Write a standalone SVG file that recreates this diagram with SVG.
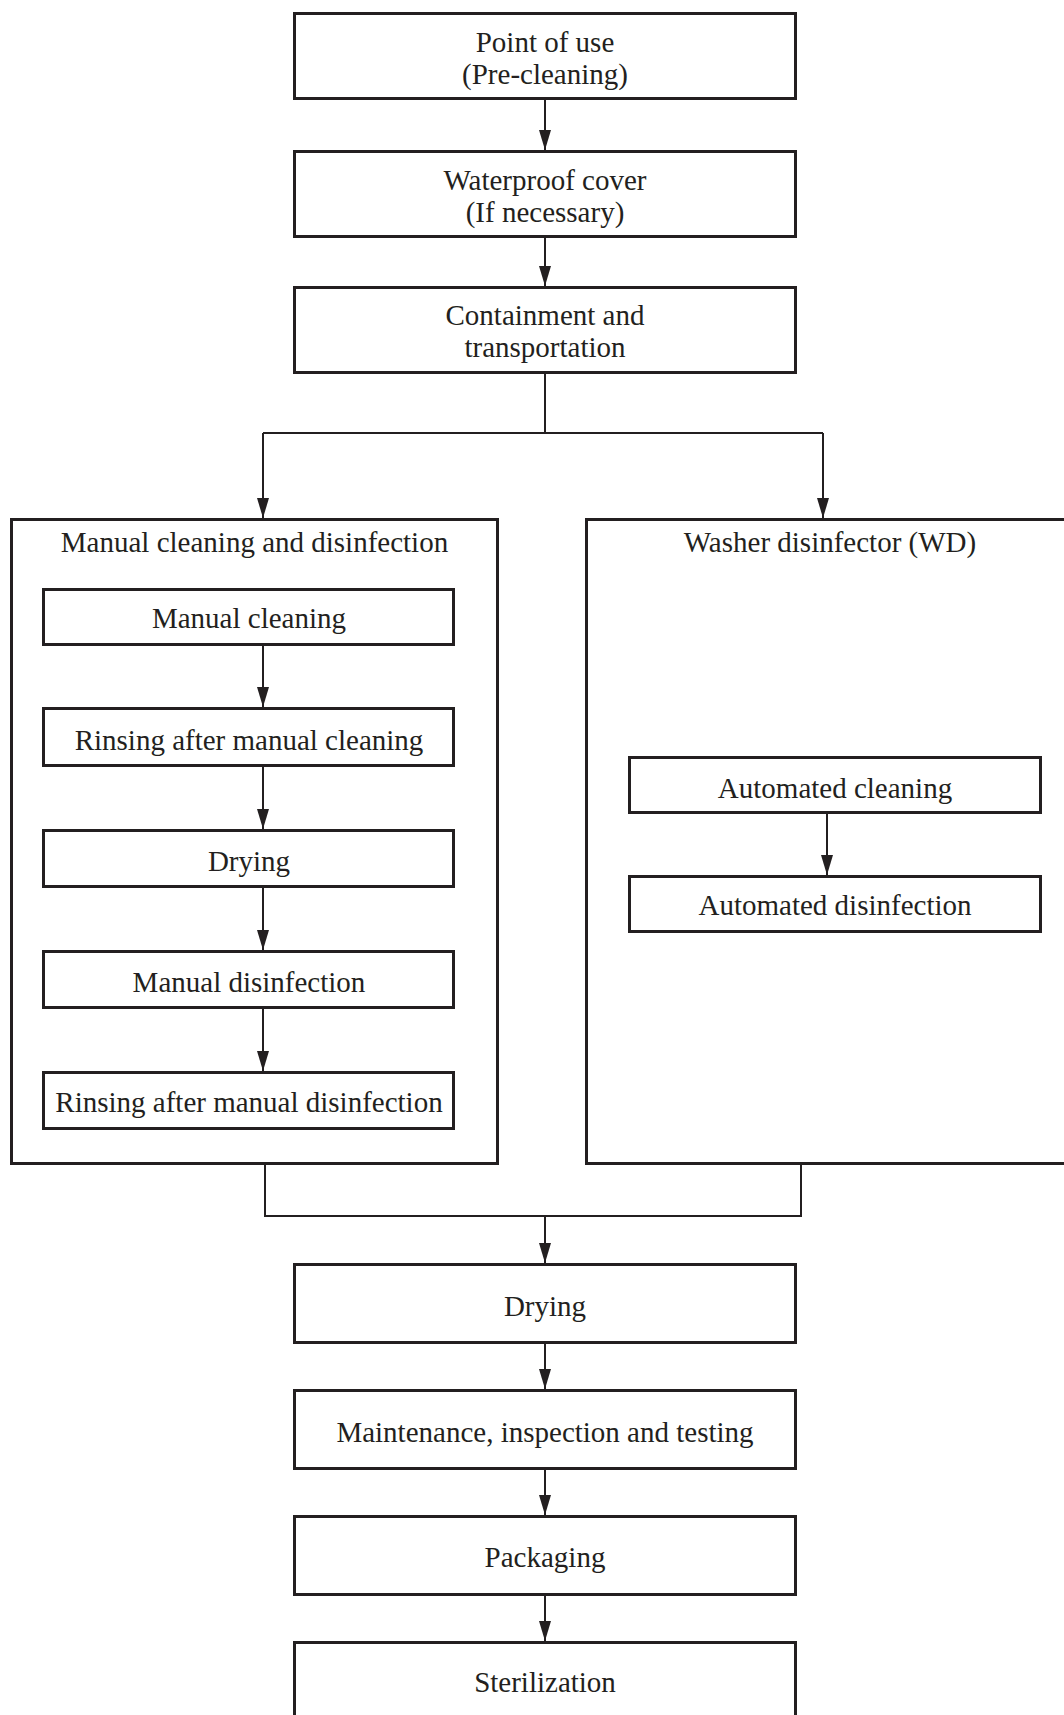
<svg xmlns="http://www.w3.org/2000/svg" width="1064" height="1715" viewBox="0 0 1064 1715">
<defs>
<style>
.box{fill:#fff;stroke:#231f20;stroke-width:3}
.cont{fill:none;stroke:#231f20;stroke-width:3}
.t{font-family:"Liberation Serif","Times New Roman",serif;font-size:29px;fill:#231f20;text-anchor:middle}
.c{fill:none;stroke:#231f20;stroke-width:2}
.a{fill:none;stroke:#231f20;stroke-width:2;marker-end:url(#ah)}
</style>
<marker id="ah" markerUnits="userSpaceOnUse" markerWidth="20" markerHeight="12" refX="20" refY="6" orient="auto">
<path d="M0,0 L20,6 L0,12 z" fill="#231f20"/>
</marker>
</defs>
<rect width="1064" height="1715" fill="#fff"/>
<g id="connectors">
<path class="a" d="M545,100 V150"/>
<path class="a" d="M545,238 V286"/>
<path class="c" d="M545,374 V433 M263,433 H823"/>
<path class="a" d="M263,433 V518"/>
<path class="a" d="M823,433 V518"/>
<path class="a" d="M263,646 V707"/>
<path class="a" d="M263,767 V829"/>
<path class="a" d="M263,888 V950"/>
<path class="a" d="M263,1009 V1071"/>
<path class="a" d="M827,814 V875"/>
<path class="c" d="M265,1165 V1216 H801 V1165"/>
<path class="a" d="M545,1216 V1263"/>
<path class="a" d="M545,1344 V1389"/>
<path class="a" d="M545,1470 V1515"/>
<path class="a" d="M545,1596 V1641"/>
</g>
<g id="point-of-use"><rect class="box" x="294.5" y="13.5" width="501" height="85"/><text class="t" x="545" y="52">Point of use</text><text class="t" x="545" y="84">(Pre-cleaning)</text></g>
<g id="waterproof-cover"><rect class="box" x="294.5" y="151.5" width="501" height="85"/><text class="t" x="545" y="190">Waterproof cover</text><text class="t" x="545" y="222">(If necessary)</text></g>
<g id="containment"><rect class="box" x="294.5" y="287.5" width="501" height="85"/><text class="t" x="545" y="325">Containment and</text><text class="t" x="545" y="357">transportation</text></g>
<g id="manual-group"><rect class="cont" x="11.5" y="519.5" width="486" height="644"/><text class="t" x="254.5" y="552">Manual cleaning and disinfection</text></g>
<g id="wd-group"><rect class="cont" x="586.5" y="519.5" width="490" height="644"/><text class="t" x="830" y="552">Washer disinfector (WD)</text></g>
<g id="manual-cleaning"><rect class="box" x="43.5" y="589.5" width="410" height="55"/><text class="t" x="249" y="628">Manual cleaning</text></g>
<g id="rinse-cleaning"><rect class="box" x="43.5" y="708.5" width="410" height="57"/><text class="t" x="249" y="750">Rinsing after manual cleaning</text></g>
<g id="drying-manual"><rect class="box" x="43.5" y="830.5" width="410" height="56"/><text class="t" x="249" y="871">Drying</text></g>
<g id="manual-disinfection"><rect class="box" x="43.5" y="951.5" width="410" height="56"/><text class="t" x="249" y="992">Manual disinfection</text></g>
<g id="rinse-disinfection"><rect class="box" x="43.5" y="1072.5" width="410" height="56"/><text class="t" x="249" y="1112">Rinsing after manual disinfection</text></g>
<g id="automated-cleaning"><rect class="box" x="629.5" y="757.5" width="411" height="55"/><text class="t" x="835" y="798">Automated cleaning</text></g>
<g id="automated-disinfection"><rect class="box" x="629.5" y="876.5" width="411" height="55"/><text class="t" x="835" y="915">Automated disinfection</text></g>
<g id="drying"><rect class="box" x="294.5" y="1264.5" width="501" height="78"/><text class="t" x="545" y="1316">Drying</text></g>
<g id="maintenance"><rect class="box" x="294.5" y="1390.5" width="501" height="78"/><text class="t" x="545" y="1442">Maintenance, inspection and testing</text></g>
<g id="packaging"><rect class="box" x="294.5" y="1516.5" width="501" height="78"/><text class="t" x="545" y="1567">Packaging</text></g>
<g id="sterilization"><rect class="box" x="294.5" y="1642.5" width="501" height="100"/><text class="t" x="545" y="1692">Sterilization</text></g>
</svg>
